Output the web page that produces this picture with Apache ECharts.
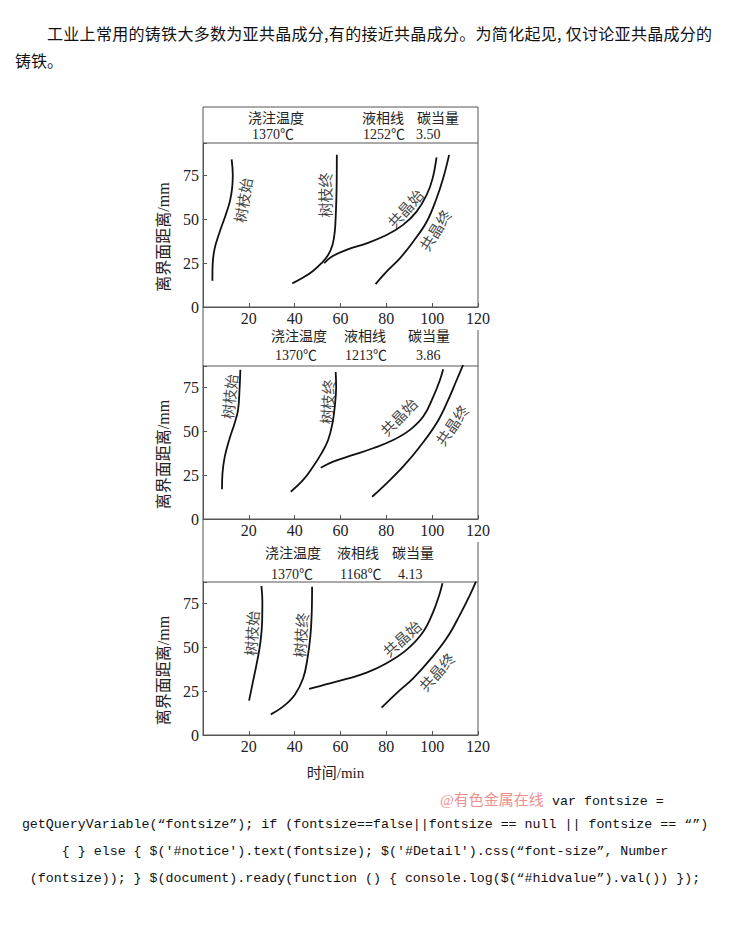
<!DOCTYPE html>
<html><head><meta charset="utf-8">
<script src="https://cdn.jsdelivr.net/npm/echarts@6/dist/echarts.min.js"></script>
<style>
html,body{margin:0;padding:0;background:#fff;width:730px;height:927px;overflow:hidden;}
#chart{position:absolute;left:0;top:0;width:730px;height:927px;}
.t{position:absolute;white-space:nowrap;font-family:'Noto Sans CJK SC';font-size:16px;color:#111;line-height:20px;}
.code{position:absolute;left:0;width:730px;text-align:center;white-space:nowrap;font-family:'Liberation Mono',monospace;font-size:13.3px;color:#111;line-height:20px;}
</style></head><body>
<div id="chart"></div>
<div class="t" style="left:47px;top:23px;letter-spacing:0.3px">工业上常用的铸铁大多数为亚共晶成分,有的接近共晶成分。为简化起见, 仅讨论亚共晶成分的</div>
<div class="t" style="left:15px;top:50px">铸铁。</div>
<div class="t" style="left:440px;top:790px;color:#ee8f8f;font-size:15px;font-family:'Liberation Serif','Noto Sans CJK SC'">@有色金属在线</div>
<div class="code" style="left:552px;width:auto;top:792px;text-align:left">var fontsize =</div>
<div class="code" style="top:815px">getQueryVariable(“fontsize”); if (fontsize==false||fontsize == null || fontsize == “”)</div>
<div class="code" style="top:842px">{ } else { $('#notice').text(fontsize); $('#Detail').css(“font-size”, Number</div>
<div class="code" style="top:869px">(fontsize)); } $(document).ready(function () { console.log($(“#hidvalue”).val()) });</div>
<script>
// ---- data ----
const xTickLabels = [20, 40, 60, 80, 100, 120];
const yTickLabels = [0, 25, 50, 75];
const yMax = [93.7, 87.4, 87.4];
const pourTemp = ['1370℃', '1370℃', '1370℃'];
const liquidus = ['1252℃', '1213℃', '1168℃'];
const carbonEq = ['3.50', '3.86', '4.13'];
const curveNames = ['树枝始', '树枝终', '共晶始', '共晶终'];

// panel 1 (CE 3.50)
const p1DendStart = [[4.1,15],[4.2,24],[5.1,33.5],[7.3,43],[9.9,52.6],[11.7,60.2],[12.7,67.8],[13,75.4],[12.5,84.4]];
const p1DendEnd = [[39,13.5],[43.7,16.8],[48,20.6],[51.7,25],[54.6,29.7],[56.5,35.4],[57.5,43],[58,54.5],[58.3,67.8],[58.4,87]];
const p1EutStart = [[52.9,25],[56.1,28.7],[62.6,32.6],[71.4,36.4],[80.1,41.1],[87.3,46.9],[93.2,54.5],[97.6,64],[100.2,73.5],[101.9,85.5]];
const p1EutEnd = [[75.3,13.1],[80.1,20.2],[85.9,27.8],[91.7,37.3],[97.6,48.7],[101.9,62],[104.8,73.5],[107.4,86.9]];
// panel 2 (CE 3.86)
const p2DendStart = [[8.3,17],[8.5,26.1],[9.5,35.6],[11.4,45.1],[13.8,54.7],[15.3,62.3],[16,75.6],[16.3,85.3]];
const p2DendEnd = [[38.3,15.6],[43.7,22.3],[48,29.9],[51.7,37.5],[54.6,45.1],[56.5,54.7],[57.5,64.2],[58.1,75.6],[57.9,84]];
const p2EutStart = [[51.4,29.3],[56.8,32.8],[65.5,36.6],[74.2,40.4],[83,45.1],[90.3,50.9],[96.1,58.5],[100.5,69.9],[103.4,79.4],[104.8,85.5]];
const p2EutEnd = [[73.8,12.7],[80.1,20.4],[87.3,29.9],[94.6,41.3],[101.9,54.7],[107,68],[110.7,79.4],[113.5,88]];
// panel 3 (CE 4.13)
const p3DendStart = [[20.1,19.6],[21.8,30.5],[23.6,41.9],[25.1,53.3],[25.8,64.7],[25.9,76.2],[25.5,85.1]];
const p3DendEnd = [[29.6,11.8],[34.9,16.2],[40,22.9],[43.7,32.4],[45.6,43.8],[46.9,57.1],[47.5,72.4],[47.6,84.7]];
const p3EutStart = [[46.3,26.3],[53.9,29],[62.6,32],[71.4,35.6],[80.1,41],[88.8,48.6],[96.1,59],[100.5,70.5],[103.1,80],[104.5,86.7]];
const p3EutEnd = [[77.9,15.6],[84.4,23.8],[91.7,32.4],[99,42.9],[106.3,55.2],[112.1,68.6],[116.5,80],[119.1,87.6]];

const panels = [
  [p1DendStart, p1DendEnd, p1EutStart, p1EutEnd],
  [p2DendStart, p2DendEnd, p2EutStart, p2EutEnd],
  [p3DendStart, p3DendEnd, p3EutStart, p3EutEnd]
];

// ---- layout / styling ----
const gridTops = [143, 366, 582];
const gridHeights = [164, 153, 153];
const L = 203, R = 478;
const AX = '#555';
const NUM_FONT = "'Liberation Serif','Noto Sans CJK SC'";
// curve label anchors (data coords) and rotation
const labelPlace = [
  [[17.3,61,81],[52.9,64,90],[88.1,56.4,48],[101.2,44,58]],
  [[11.4,70,84],[54.1,67,86],[85.2,58.5,46],[108.5,53.7,55]],
  [[21.1,58.1,86],[42.5,57.1,86],[86.6,55.3,42],[101.9,36.2,48]]
];
// header text positions [x of col1, col2, col3], [y row1, row2]
const headerLayout = [
  {cols:[[248,252],[362,363],[417,416]], rows:[117,134]},
  {cols:[[271,275],[344,345],[408,416]], rows:[335,355]},
  {cols:[[265,271],[337,340],[392,398]], rows:[552,574]}
];

const grid = [], xAxis = [], yAxis = [], series = [], graphic = [];
for (let i = 0; i < 3; i++) {
  grid.push({left: L, width: R - L, top: gridTops[i], height: gridHeights[i], show: true, borderColor: AX, borderWidth: 1, containLabel: false});
  xAxis.push({
    gridIndex: i, type: 'value', min: 0, max: 120, interval: 20,
    axisLine: {lineStyle: {color: AX, width: 1}},
    axisTick: {inside: true, length: 4, lineStyle: {color: AX}},
    axisLabel: {color: '#222', fontFamily: NUM_FONT, fontSize: 16, margin: 3,
      formatter: v => xTickLabels.indexOf(v) >= 0 ? String(v) : ''},
    splitLine: {show: false},
    name: i === 2 ? '时间/min' : '', nameLocation: 'middle', nameGap: 30,
    nameTextStyle: {color: '#222', fontFamily: NUM_FONT, fontSize: 15, padding: [0, 10, 0, 0]}
  });
  yAxis.push({
    gridIndex: i, type: 'value', min: 0, max: yMax[i], interval: 25,
    axisLine: {lineStyle: {color: AX, width: 1}},
    axisTick: {inside: true, length: 4, lineStyle: {color: AX}},
    axisLabel: {color: '#222', fontFamily: NUM_FONT, fontSize: 16, margin: 4,
      formatter: v => yTickLabels.indexOf(v) >= 0 ? String(v) : ''},
    splitLine: {show: false},
    name: '离界面距离/mm', nameLocation: 'middle', nameGap: 32,
    nameTextStyle: {color: '#222', fontFamily: NUM_FONT, fontSize: 16, padding: [0, 24, 0, 0]}
  });
  panels[i].forEach((d, k) => {
    series.push({
      type: 'line', xAxisIndex: i, yAxisIndex: i, data: d, smooth: 0.4,
      showSymbol: false, symbol: 'none', lineStyle: {color: '#111', width: 1.8}, silent: true, z: 3
    });
  });
  series.push({
    type: 'scatter', xAxisIndex: i, yAxisIndex: i, symbolSize: 0, silent: true, z: 4,
    data: labelPlace[i].map((p, k) => ({
      value: [p[0], p[1]],
      label: {show: true, formatter: curveNames[k], rotate: p[2], position: 'inside',
        align: 'center', verticalAlign: 'middle', fontSize: 15, color: '#111', fontFamily: 'Noto Sans CJK SC'}
    }))
  });
  // header texts
  const hl = headerLayout[i];
  const top = ['浇注温度', '液相线', '碳当量'];
  const bot = [pourTemp[i], liquidus[i], carbonEq[i]];
  for (let c = 0; c < 3; c++) {
    graphic.push({type: 'text', style: {text: top[c], x: hl.cols[c][0], y: hl.rows[0], fill: '#222',
      font: "14px 'Noto Sans CJK SC'", verticalAlign: 'middle', lineHeight: 14}});
    graphic.push({type: 'text', style: {text: bot[c], x: hl.cols[c][1], y: hl.rows[1], fill: '#222',
      font: "14px " + NUM_FONT, verticalAlign: 'middle', lineHeight: 14}});
  }
}
// header frame lines
const ls = {stroke: AX, lineWidth: 1, fill: null};
graphic.push({type: 'polyline', shape: {points: [[L, gridTops[0]], [L, 107], [R, 107], [R, gridTops[0]]]}, style: ls});
graphic.push({type: 'line', shape: {x1: L, y1: gridTops[0] + gridHeights[0], x2: L, y2: gridTops[1]}, style: ls});
graphic.push({type: 'line', shape: {x1: R, y1: 330, x2: R, y2: gridTops[1]}, style: ls});
graphic.push({type: 'line', shape: {x1: L, y1: gridTops[1] + gridHeights[1], x2: L, y2: gridTops[2]}, style: ls});
graphic.push({type: 'line', shape: {x1: R, y1: 542, x2: R, y2: gridTops[2]}, style: ls});

const chart = echarts.init(document.getElementById('chart'), null, {renderer: 'svg'});
chart.setOption({animation: false, grid, xAxis, yAxis, series, graphic});
</script>
</body></html>
